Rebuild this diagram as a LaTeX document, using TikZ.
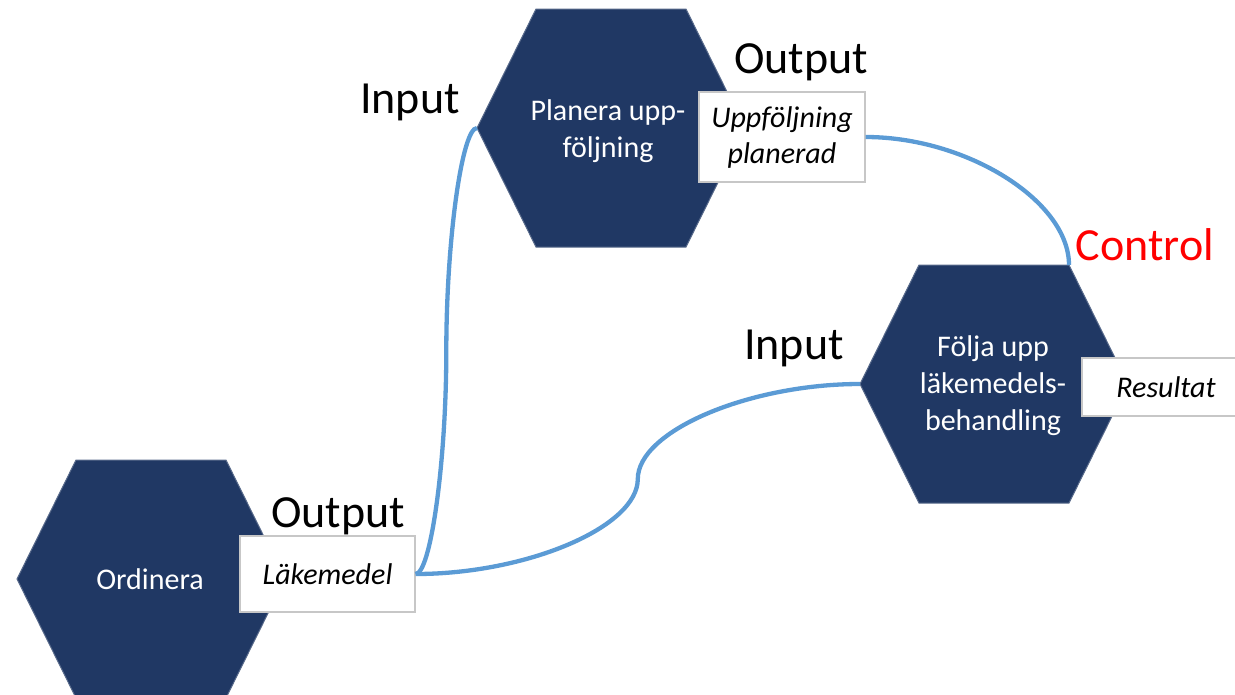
\documentclass[tikz,border=0pt]{standalone}
\usepackage{fontspec}
\setmainfont{Carlito}
\usetikzlibrary{calc}
\definecolor{hexblue}{HTML}{203864}
\definecolor{flowblue}{HTML}{5B9BD5}

\begin{document}
\begin{tikzpicture}[
		x=1pt, y=-1pt,
		hexagon/.style={fill=hexblue, draw=hexblue!75!white, line width=1pt},
		hextext/.style={text=white, align=center, font=\fontsize{30}{37}\selectfont},
		outbox/.style={draw=black!22, line width=1.2pt, fill=white, inner sep=0pt, align=center, font=\fontsize{30}{36}\selectfont\itshape},
		tag/.style={anchor=base, font=\fontsize{46}{46}\selectfont},
		flow/.style={draw=flowblue, line width=4.3pt}
		]
		\useasboundingbox (0,0) rectangle (1235,694);
		\clip (0,0) rectangle (1235,694);
		
		\foreach \name/\cx/\cy in {ord/151/579, plan/611/128, folj/994/384}
		{
			\fill[hexagon] (\cx,\cy) ++(-134,0) coordinate (\name-w) -- ++(59,-119) -- ++(150,0) coordinate (\name-ne) -- ++(59,119) -- ++(-59,119) -- ++(-150,0) -- cycle;
		}
		\node[hextext, anchor=base] (ord) at (150,589) {Ordinera};
		\node[hextext] (plan) at (608,131) {Planera upp-\\följning};
		\node[hextext] (folj) at (993,386) {Följa upp\\läkemedels-\\behandling};
		
		\node[outbox, minimum width=175pt, minimum height=76pt] (lak) at (327.5,574) {Läkemedel};
		\node[outbox, minimum width=166pt, minimum height=90pt] (upp) at (782,137) {Uppföljning\\planerad};
		\node[outbox, minimum width=168pt, minimum height=58pt] (res) at (1166,387) {Resultat};
		
		\draw[flow] (lak.east) .. controls +(15,0) and +(0,111) .. ($(lak.east)!0.5!(plan-w)$) .. controls +(0,-111) and +(-15,0) .. (plan-w);
		\draw[flow] (lak.east) .. controls +(111,0) and +(0,48) .. ($(lak.east)!0.5!(folj-w)$) .. controls +(0,-48) and +(-111,0) .. (folj-w);
		\draw[flow] (upp.east) .. controls +(101,0) and +(0,-64) .. (folj-ne);
		
		\node[tag] (out1) at (338,527) {Output};
		\node[tag] (in1) at (410,113) {Input};
		\node[tag] (out2) at (801,73) {Output};
		\node[tag, text=red] (ctrl) at (1145,260) {Control};
		\node[tag] (in2) at (794,359) {Input};
\end{tikzpicture}
\end{document}
